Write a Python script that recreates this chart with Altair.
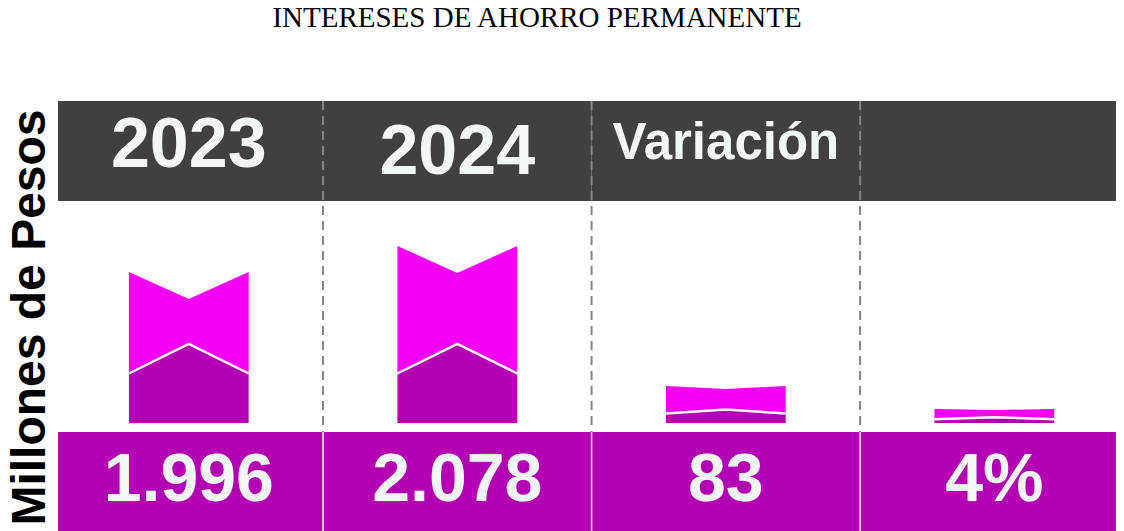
import altair as alt
import pandas as pd

# ---- data ----
columns = ["2023", "2024", "Variación", ""]
value_labels = ["1.996", "2.078", "83", "4%"]
# shape levels (arbitrary units)
top_edge = [151, 177, 37, 14]
top_mid = [124, 150, 34, 13]
low_edge = [49.5, 49.5, 9.5, 3.7]
low_mid = [79, 79, 13.5, 5.7]
boundaries = [1, 2, 3]

HALF = 0.223

rows = []
for i in range(len(columns)):
    for dx in (-HALF, 0.0, HALF):
        mid = dx == 0.0
        rows.append({
            "col": i,
            "x": i + 0.5 + dx,
            "zero": 0,
            "low": low_mid[i] if mid else low_edge[i],
            "top": top_mid[i] if mid else top_edge[i],
        })
shape_df = pd.DataFrame(rows)

col_df = pd.DataFrame({
    "x0": list(range(len(columns))),
    "x1": [i + 1 for i in range(len(columns))],
    "xc": [i + 0.5 for i in range(len(columns))],
    "label": columns,
    "value": value_labels,
})
bound_df = pd.DataFrame({"b": boundaries})

W, H = 1058, 440
xs = alt.Scale(domain=[0.013, 3.953], nice=False, zero=False)
ys = alt.Scale(domain=[-118, 322], nice=False, zero=False)
yaxis = alt.Axis(title="Millones de Pesos", labels=False, ticks=False, domain=False,
                 grid=False, titleFont="Liberation Sans", titleFontSize=48,
                 titleFontWeight="bold", titleColor="black", titlePadding=14,
                 titleBaseline="alphabetic", titleY=216)

base_cols = alt.Chart(col_df)

header = base_cols.mark_rect(color="#404040", clip=True).encode(
    x=alt.X("x0:Q", scale=xs, axis=None), x2="x1:Q",
    y=alt.value(0), y2=alt.value(100))

dashes = alt.Chart(bound_df).mark_rule(color="#858585", strokeWidth=2, strokeDash=[9, 6]).encode(
    x=alt.X("b:Q", scale=xs, axis=None), y=alt.value(0), y2=alt.value(331))

bottom = base_cols.mark_rect(color="#B200B2", clip=True).encode(
    x=alt.X("x0:Q", scale=xs, axis=None), x2="x1:Q",
    y=alt.value(331), y2=alt.value(H))

seps = alt.Chart(bound_df).mark_rule(color="#F0F0F0", strokeWidth=1.5).encode(
    x=alt.X("b:Q", scale=xs, axis=None), y=alt.value(331), y2=alt.value(H))

base_shape = alt.Chart(shape_df)
upper = base_shape.mark_area(color="#F400F4", orient="vertical").encode(
    x=alt.X("x:Q", scale=xs, axis=None),
    y=alt.Y("low:Q", scale=ys, axis=yaxis), y2="top:Q", detail="col:N")
lower = base_shape.mark_area(color="#B200B2", orient="vertical").encode(
    x=alt.X("x:Q", scale=xs, axis=None),
    y=alt.Y("zero:Q", scale=ys, axis=yaxis), y2="low:Q", detail="col:N")
white = base_shape.mark_line(color="white", strokeWidth=2.5).encode(
    x=alt.X("x:Q", scale=xs, axis=None),
    y=alt.Y("low:Q", scale=ys, axis=yaxis), detail="col:N")

txt_color = "#F2F6F6"
head_2023 = base_cols.transform_filter(alt.datum.label == "2023").mark_text(
    font="Liberation Sans", fontWeight="bold", fontSize=70, color=txt_color, baseline="middle").encode(
    x=alt.X("xc:Q", scale=xs, axis=None), y=alt.value(45), text="label:N")
head_2024 = base_cols.transform_filter(alt.datum.label == "2024").mark_text(
    font="Liberation Sans", fontWeight="bold", fontSize=70, color=txt_color, baseline="middle").encode(
    x=alt.X("xc:Q", scale=xs, axis=None), y=alt.value(52), text="label:N")
head_var = base_cols.transform_filter(alt.datum.label == "Variación").mark_text(
    font="Liberation Sans", fontWeight="bold", fontSize=51, color=txt_color, baseline="middle").encode(
    x=alt.X("xc:Q", scale=xs, axis=None), y=alt.value(43), text="label:N")
values = base_cols.mark_text(
    font="Liberation Sans", fontWeight="bold", fontSize=68, color=txt_color, baseline="middle").encode(
    x=alt.X("xc:Q", scale=xs, axis=None), y=alt.value(380), text="value:N")

chart = alt.layer(
    header, dashes, bottom, seps, lower, upper, white,
    head_2023, head_2024, head_var, values
).properties(
    width=W, height=H,
    title=alt.TitleParams(text="INTERESES DE AHORRO PERMANENTE", font="Liberation Serif",
                          fontSize=29, fontWeight="normal", color="black",
                          anchor="middle", frame="group", dx=-50, offset=44,
                          baseline="alphabetic"),
    autosize=alt.AutoSizeParams(type="none"),
    padding={"left": 50, "top": 93, "right": 0, "bottom": 0},
).configure_view(stroke=None)

chart.save("out.html", embed_options={"renderer": "svg", "actions": False})
